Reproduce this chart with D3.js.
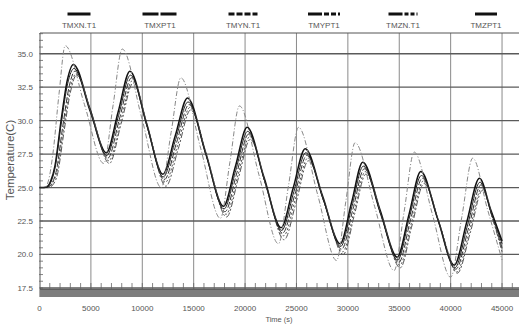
<!DOCTYPE html>
<html>
<head>
<meta charset="utf-8">
<script src="https://cdn.jsdelivr.net/npm/d3@7"></script>
<style>
  body { margin: 0; background: #fff; }
  text { font-family: "Liberation Sans Narrow", "Liberation Sans", Arial, sans-serif; fill: #555; }
</style>
</head>
<body>
<svg id="chart" width="527" height="324"></svg>
<script>
// series data: [time (s), temperature (C)]
const tmxnT1 = [[0,25.0],[700,25.05],[1100,25.5],[1500,26.6],[2100,30.0],[2700,33.0],[3300,34.2],
  [4900,30.9],[6500,27.6],[7650,30.65],[8800,33.7],[10400,29.85],[12000,26.0],[13200,28.85],[14400,31.7],
  [16150,27.65],[17900,23.6],[19050,26.55],[20200,29.5],[21850,25.75],[23500,22.0],[24675,24.95],[25850,27.9],
  [27550,24.35],[29250,20.8],[30350,23.85],[31450,26.9],[33125,23.35],[34800,19.8],[35950,23.0],[37100,26.2],
  [38725,22.7],[40350,19.2],[41575,22.45],[42800,25.7],[43900,23.35],[45000,21.0]];
const tmxpT1 = [[0,25.0],[800,25.0],[1200,25.3],[1650,26.3],[2250,29.5],[2900,32.6],[3450,33.7],
  [5050,30.5],[6650,27.2],[7800,30.2],[8950,33.2],[10550,29.4],[12150,25.6],[13350,28.4],[14550,31.2],
  [16300,27.2],[18050,23.2],[19200,26.1],[20350,29.0],[22000,25.3],[23650,21.6],[24850,24.5],[26000,27.4],
  [27700,23.9],[29400,20.4],[30500,23.4],[31600,26.4],[33250,22.9],[34950,19.4],[36100,22.6],[37250,25.7],
  [38900,22.3],[40500,18.9],[41750,22.0],[42950,25.2],[44000,22.9],[45000,20.5]];
const tmynT1 = [[0,25.0],[850,25.0],[1250,25.3],[1700,26.2],[2300,29.2],[2950,32.3],[3550,33.5],
  [5150,30.3],[6750,27.0],[7900,30.0],[9050,33.0],[10650,29.2],[12250,25.4],[13450,28.2],[14650,31.0],
  [16400,27.0],[18150,23.0],[19300,25.9],[20450,28.8],[22100,25.0],[23750,21.4],[24950,24.3],[26100,27.2],
  [27800,23.7],[29500,20.2],[30600,23.2],[31700,26.2],[33350,22.7],[35050,19.2],[36200,22.4],[37350,25.5],
  [39000,22.1],[40600,18.7],[41850,21.8],[43050,25.0],[44100,22.7],[45000,20.4]];
const tmypT1 = [[0,25.0],[900,25.0],[1300,25.2],[1750,26.0],[2350,29.0],[3000,32.1],[3600,33.4],
  [5200,30.1],[6800,26.8],[7950,29.8],[9100,32.8],[10700,28.9],[12300,25.1],[13500,27.9],[14700,30.8],
  [16450,26.8],[18200,22.8],[19350,25.7],[20500,28.6],[22150,24.8],[23800,21.1],[25000,24.0],[26150,27.0],
  [27850,23.5],[29550,20.0],[30650,23.0],[31750,26.0],[33400,22.5],[35100,19.0],[36250,22.2],[37400,25.3],
  [39050,21.9],[40650,18.6],[41900,21.6],[43100,24.8],[44150,22.5],[45000,20.2]];
const tmznT1 = [[0,25.0],[500,25.0],[900,25.6],[1300,27.5],[1900,32.0],[2500,35.6],
  [4375,31.2],[6250,26.8],[7150,31.1],[8050,35.35],[9950,30.2],[11850,25.0],[12800,29.1],[13750,33.2],
  [15675,27.95],[17600,22.7],[18525,26.9],[19450,31.1],[21350,25.95],[23250,20.8],[24225,25.15],[25200,29.5],
  [27050,24.5],[28900,19.55],[29800,23.95],[30700,28.35],[32600,23.6],[34500,18.8],[35475,23.2],[36450,27.65],
  [38225,23.0],[40000,18.3],[41075,22.75],[42150,27.2],[43575,23.4],[45000,19.6]];
const tmzpT1 = [[0,25.0],[700,25.0],[1100,25.4],[1500,26.4],[2100,29.7],[2750,32.8],[3350,33.9],
  [4950,30.6],[6550,27.4],[7700,30.4],[8850,33.4],[10450,29.6],[12050,25.8],[13250,28.6],[14450,31.4],
  [16200,27.4],[17950,23.4],[19100,26.3],[20250,29.2],[21900,25.5],[23550,21.8],[24750,24.7],[25900,27.6],
  [27600,24.1],[29300,20.6],[30400,23.6],[31500,26.6],[33150,23.1],[34850,19.6],[36000,22.8],[37150,25.9],
  [38800,22.5],[40400,19.0],[41650,22.2],[42850,25.4],[43950,23.1],[45000,20.8]];

const seriesNames = ['TMXN.T1', 'TMXPT1', 'TMYN.T1', 'TMYPT1', 'TMZN.T1', 'TMZPT1'];
const xTicks = [0, 5000, 10000, 15000, 20000, 25000, 30000, 35000, 40000, 45000];
const yTicks = [17.5, 20.0, 22.5, 25.0, 27.5, 30.0, 32.5, 35.0];

const svg = d3.select('#chart');
const plotLeft = 40, plotRight = 519, plotTop = 33, plotBottom = 289;

const x = d3.scaleLinear().domain([0, 46650]).range([39.5, plotRight]);
const y = d3.scaleLinear().domain([17.42, 36.55]).range([plotBottom, plotTop]);

// line styles, same order as seriesNames
const styles = [
  { data: tmxnT1, stroke: '#111', width: 1.5, dash: null, legendDash: null },
  { data: tmxpT1, stroke: '#333', width: 1, dash: '6,2', legendDash: '16,2' },
  { data: tmynT1, stroke: '#555', width: 1, dash: '2,2', legendDash: '6,2' },
  { data: tmypT1, stroke: '#555', width: 1, dash: '6,2,2,2', legendDash: '14,2,5,2,5,2' },
  { data: tmznT1, stroke: '#888', width: 1, dash: '5,2,1,2', legendDash: '14,2,4,2,4,2' },
  { data: tmzpT1, stroke: '#222', width: 1, dash: null, legendDash: null }
];

// grid
svg.append('g').selectAll('line')
  .data(xTicks.slice(1))
  .enter().append('line')
  .attr('x1', d => x(d)).attr('x2', d => x(d))
  .attr('y1', plotTop).attr('y2', plotBottom)
  .attr('stroke', '#8a8a8a').attr('stroke-width', 1);

svg.append('g').selectAll('line')
  .data(yTicks)
  .enter().append('line')
  .attr('x1', plotLeft).attr('x2', plotRight)
  .attr('y1', d => y(d)).attr('y2', d => y(d))
  .attr('stroke', '#5a5a5a').attr('stroke-width', 1.3);

// frame
svg.append('line').attr('x1', plotLeft).attr('x2', plotRight).attr('y1', plotTop).attr('y2', plotTop)
  .attr('stroke', '#555').attr('stroke-width', 1);
svg.append('line').attr('x1', plotLeft).attr('x2', plotLeft).attr('y1', plotTop).attr('y2', plotBottom + 8)
  .attr('stroke', '#555').attr('stroke-width', 1);

// left minor ticks
svg.append('g').selectAll('line')
  .data(d3.range(17.5, 36.6, 0.5))
  .enter().append('line')
  .attr('x1', plotLeft - 1).attr('x2', plotLeft + 3)
  .attr('y1', d => y(d)).attr('y2', d => y(d))
  .attr('stroke', '#666').attr('stroke-width', 0.8);

// bottom bar and ticks
svg.append('rect').attr('x', plotLeft).attr('y', plotBottom).attr('width', plotRight - plotLeft).attr('height', 8)
  .attr('fill', '#7d7d7d');
svg.append('line').attr('x1', plotLeft).attr('x2', plotRight).attr('y1', plotBottom).attr('y2', plotBottom)
  .attr('stroke', '#444').attr('stroke-width', 1);
svg.append('g').selectAll('line')
  .data(d3.range(1000, 46650, 1000))
  .enter().append('line')
  .attr('x1', d => x(d)).attr('x2', d => x(d))
  .attr('y1', plotBottom - 6).attr('y2', plotBottom)
  .attr('stroke', '#666').attr('stroke-width', 0.8);

// axis labels
svg.append('g').selectAll('text')
  .data(yTicks)
  .enter().append('text')
  .attr('x', 33).attr('y', d => y(d) + 3)
  .attr('text-anchor', 'end').attr('font-size', 8)
  .text(d => d.toFixed(1));

svg.append('g').selectAll('text')
  .data(xTicks)
  .enter().append('text')
  .attr('x', d => x(d)).attr('y', 311)
  .attr('text-anchor', 'middle').attr('font-size', 8)
  .text(d => d);

svg.append('text').attr('x', 279).attr('y', 322).attr('text-anchor', 'middle')
  .attr('font-size', 7.5).text('Time (s)');
svg.append('text').attr('transform', 'translate(14,160) rotate(-90)').attr('text-anchor', 'middle')
  .attr('font-size', 11.5).text('Temperature(C)');

// curves
const line = d3.line().x(d => x(d[0])).y(d => y(d[1])).curve(d3.curveMonotoneX);
styles.forEach(s => {
  svg.append('path')
    .datum(s.data)
    .attr('d', line)
    .attr('fill', 'none')
    .attr('stroke', s.stroke)
    .attr('stroke-width', s.width)
    .attr('stroke-dasharray', s.dash);
});

// legend
const legendX = [79, 160, 243, 324, 403, 486];
const legendW = [23, 35, 29, 32, 29, 22];
seriesNames.forEach((name, i) => {
  const g = svg.append('g').attr('transform', `translate(${legendX[i]},0)`);
  g.append('line')
    .attr('x1', -legendW[i] / 2).attr('x2', legendW[i] / 2)
    .attr('y1', 14).attr('y2', 14)
    .attr('stroke', '#111').attr('stroke-width', 3)
    .attr('stroke-dasharray', styles[i].legendDash);
  g.append('text').attr('y', 28).attr('text-anchor', 'middle').attr('font-size', 8).text(name);
});
</script>
</body>
</html>
